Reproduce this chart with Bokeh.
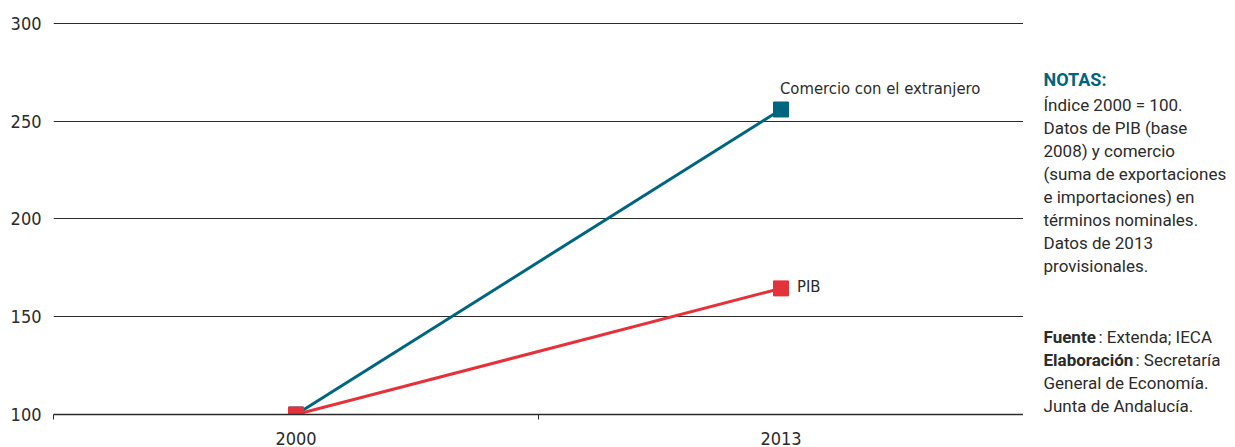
from bokeh.plotting import figure
from bokeh.layouts import row
from bokeh.models import FixedTicker, Label
from bokeh.embed import file_html
from bokeh.resources import INLINE

# ---- data ----
years = ["2000", "2013"]
comercio = [100, 256]
pib = [100, 164.5]
y_ticks = [100, 150, 200, 250, 300]
series_names = ["Comercio con el extranjero", "PIB"]
notas_title = "NOTAS:"
notas_lines = ["Índice 2000 = 100.", "Datos de PIB (base", "2008) y comercio",
               "(suma de exportaciones", "e importaciones) en",
               "términos nominales.", "Datos de 2013", "provisionales."]
fuente = ("Fuente", ": Extenda; IECA")
elaboracion = ("Elaboración", ": Secretaría")
elab_rest = ["General de Economía.", "Junta de Andalucía."]

TEAL = "#00667f"
RED = "#e5323a"
DARK = "#2b2b2b"
NARROW = "DejaVu Sans Condensed"
NOTEF = "Roboto"
NFS = "17px"

xs = list(range(len(years)))

p = figure(width=1023, height=447, x_range=(-0.5, len(years) - 0.5), y_range=(100, 301),
           output_backend="svg", toolbar_location=None,
           min_border_left=53, min_border_right=0, min_border_top=21, min_border_bottom=10)
p.outline_line_color = None
p.background_fill_color = "white"

# axes
p.xaxis.ticker = FixedTicker(ticks=xs, minor_ticks=[x - 0.5 for x in xs] + [xs[-1] + 0.5])
p.xaxis.major_label_overrides = {i: y for i, y in zip(xs, years)}
p.xaxis.major_tick_out = 0
p.xaxis.major_tick_in = 0
p.xaxis.minor_tick_out = 5
p.xaxis.minor_tick_in = 0
p.xaxis.minor_tick_line_color = DARK
p.xaxis.axis_line_color = DARK
p.xaxis.axis_line_width = 1.5
p.xaxis.major_label_standoff = 12
p.xaxis.major_label_text_font = NARROW
p.xaxis.major_label_text_font_size = "18px"
p.xaxis.major_label_text_color = DARK

p.yaxis.ticker = FixedTicker(ticks=y_ticks)
p.yaxis.axis_line_color = None
p.yaxis.major_tick_out = 0
p.yaxis.major_tick_in = 0
p.yaxis.minor_tick_line_color = None
p.yaxis.major_label_standoff = 12
p.yaxis.major_label_text_font = NARROW
p.yaxis.major_label_text_font_size = "18px"
p.yaxis.major_label_text_color = DARK

p.xgrid.grid_line_color = None
p.ygrid.ticker = FixedTicker(ticks=y_ticks)
p.ygrid.grid_line_color = DARK
p.ygrid.grid_line_alpha = 1
p.ygrid.grid_line_width = 1

# series
p.line(xs, comercio, line_color=TEAL, line_width=3)
p.scatter(xs, comercio, marker="square", size=15, fill_color=TEAL, line_color=TEAL)
p.line(xs, pib, line_color=RED, line_width=3)
p.scatter(xs, pib, marker="square", size=15, fill_color=RED, line_color=RED)

p.add_layout(Label(x=xs[-1], y=comercio[-1], x_offset=-1, y_offset=21, text=series_names[0],
                   text_font=NARROW, text_font_size="16.5px", text_color=DARK,
                   text_baseline="middle", text_align="left"))
p.add_layout(Label(x=xs[-1], y=pib[-1], x_offset=16, y_offset=2, text=series_names[1],
                   text_font=NARROW, text_font_size="16.5px", text_color=DARK,
                   text_baseline="middle", text_align="left"))

# ---- notes panel (pixel-like coordinates; frame aligned with main frame 21..414) ----
n = figure(width=212, height=447, x_range=(0, 212), y_range=(414, 21),
           output_backend="svg", toolbar_location=None,
           min_border_left=0, min_border_right=0, min_border_top=21, min_border_bottom=10)
n.outline_line_color = None
n.axis.visible = False
n.grid.visible = False

NX = 20
n.add_layout(Label(x=NX, y=79, text=notas_title, text_font=NOTEF, text_font_size="18px",
                   text_font_style="bold", text_color=TEAL, text_baseline="middle"))
for i, t in enumerate(notas_lines):
    n.add_layout(Label(x=NX, y=104 + 23 * i, text=t, text_font=NOTEF,
                       text_font_size=NFS, text_color=DARK, text_baseline="middle"))

n.add_layout(Label(x=NX, y=336, text=fuente[0], text_font=NOTEF, text_font_size=NFS,
                   text_font_style="bold", text_color=DARK, text_baseline="middle"))
n.add_layout(Label(x=75, y=336, text=fuente[1], text_font=NOTEF, text_font_size=NFS,
                   text_color=DARK, text_baseline="middle"))
n.add_layout(Label(x=NX, y=359, text=elaboracion[0], text_font=NOTEF, text_font_size=NFS,
                   text_font_style="bold", text_color=DARK, text_baseline="middle"))
n.add_layout(Label(x=112, y=359, text=elaboracion[1], text_font=NOTEF, text_font_size=NFS,
                   text_color=DARK, text_baseline="middle"))
for i, t in enumerate(elab_rest):
    n.add_layout(Label(x=NX, y=382 + 23 * i, text=t, text_font=NOTEF,
                       text_font_size=NFS, text_color=DARK, text_baseline="middle"))

open("out.html", "w").write(file_html(row(p, n), INLINE))
